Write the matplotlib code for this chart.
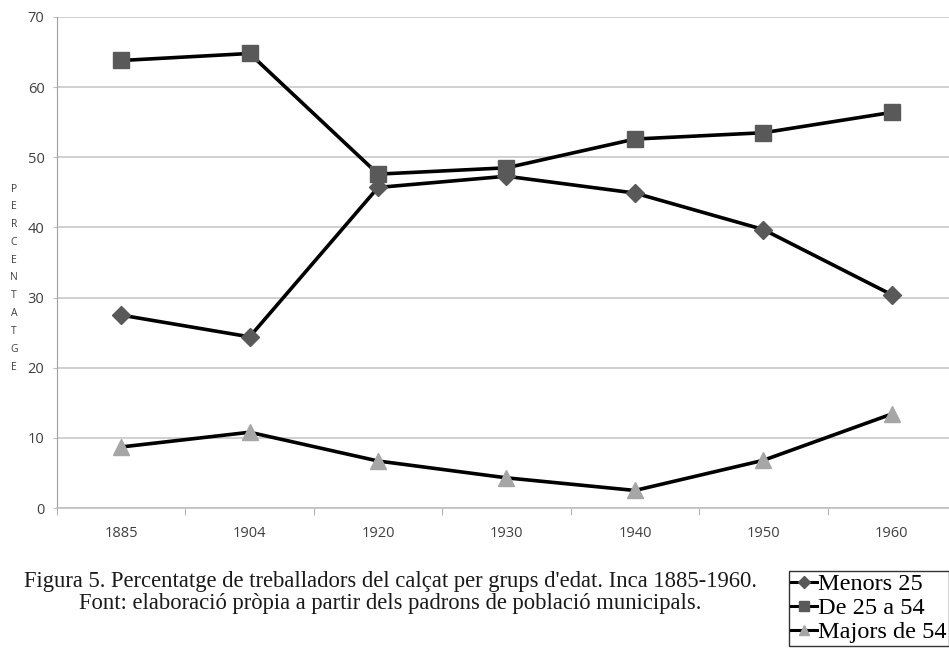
import numpy as np
import matplotlib
matplotlib.use('Agg')
import matplotlib.pyplot as plt

# data
years = ['1885', '1904', '1920', '1930', '1940', '1950', '1960']
menors_25 = [27.5, 24.4, 45.7, 47.3, 44.9, 39.7, 30.4]
de_25_a_54 = [63.8, 64.8, 47.6, 48.5, 52.6, 53.5, 56.4]
majors_54 = [8.7, 10.8, 6.7, 4.3, 2.5, 6.8, 13.4]
series_labels = ['Menors 25', 'De 25 a 54', 'Majors de 54']

W, H = 949, 649
fig = plt.figure(figsize=(W / 100, H / 100), dpi=100)
# axes box in pixels: left 57, top 17, bottom 508, right runs off the figure
ax = fig.add_axes([57 / W, (H - 508) / H, 899 / W, 491 / H])

x = np.arange(len(years))
ax.plot(x, menors_25, color='black', lw=2.6, marker='D', ms=9,
        mfc='#595959', mec='#595959', label=series_labels[0], zorder=3)
ax.plot(x, de_25_a_54, color='black', lw=2.6, marker='s', ms=12,
        mfc='#595959', mec='#595959', label=series_labels[1], zorder=3)
ax.plot(x, majors_54, color='black', lw=2.6, marker='^', ms=12,
        mfc='#a6a6a6', mec='#a6a6a6', label=series_labels[2], zorder=3)

ax.set_xlim(-0.5, len(years) - 0.5)
ax.set_ylim(0, 70)
ax.set_yticks(np.arange(0, 71, 10))
ax.set_xticks(x)
ax.set_xticklabels(years, family='Open Sans')
for t in ax.get_yticklabels():
    t.set_family('Open Sans')
ax.set_xticks(np.arange(-0.5, len(years) + 0.5, 1), minor=True)
ax.tick_params(axis='x', which='major', length=0, pad=13, labelsize=10.5, labelcolor='#404040')
ax.tick_params(axis='x', which='minor', length=5, color='#a0a0a0', direction='out')
ax.tick_params(axis='y', length=3, color='#c0c0c0', pad=6, labelsize=10.5, labelcolor='#404040')
ax.grid(axis='y', color='#c8c8c8', lw=1.2)
ax.set_axisbelow(True)
for s in ['top', 'right']:
    ax.spines[s].set_visible(False)
ax.spines['left'].set_color('#a0a0a0')
ax.spines['bottom'].set_color('#c0c0c0')
ax.spines['bottom'].set_linewidth(1.2)

# stacked vertical axis title
fig.text(14 / W, 1 - 278 / H, '\n'.join('PERCENTATGE'), ha='center', va='center',
         family='Open Sans', fontsize=7.5, color='#404040', linespacing=1.85)

# caption
fig.text(390 / W, 1 - 581 / H, "Figura 5. Percentatge de treballadors del calçat per grups d'edat. Inca 1885-1960.",
         ha='center', va='center', family='Liberation Serif', fontsize=16.3, color='#1a1a1a')
fig.text(390 / W, 1 - 604 / H, "Font: elaboració pròpia a partir dels padrons de població municipals.",
         ha='center', va='center', family='Liberation Serif', fontsize=16.3, color='#1a1a1a')

leg = fig.legend(loc='upper left', bbox_to_anchor=(789 / W, 1 - 571 / H),
                 prop={'family': 'Liberation Serif', 'size': 17.5},
                 handlelength=1.05, handletextpad=0.05, borderpad=0.1,
                 labelspacing=0.08, borderaxespad=0, fancybox=False,
                 markerscale=0.65, frameon=True)
leg.get_frame().set_edgecolor('black')
leg.get_frame().set_linewidth(1.0)
for line in leg.get_lines():
    line.set_linewidth(2.2)

fig.savefig('out.png', dpi=100)
